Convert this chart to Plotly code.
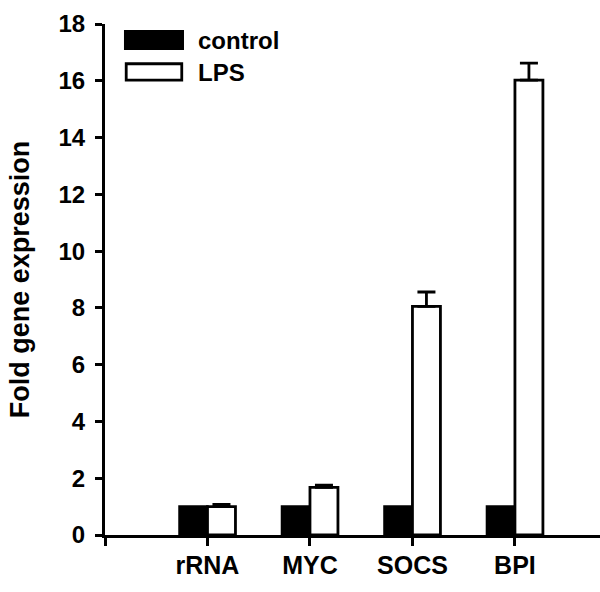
import plotly.graph_objects as go

categories = ["rRNA", "MYC", "SOCS", "BPI"]
cat_pos = [1, 2, 3, 4]
control_vals = [1.0, 1.0, 1.0, 1.0]
lps_vals = [1.0, 1.68, 8.05, 16.02]
lps_err = [0.08, 0.08, 0.51, 0.6]
tick_vals = [0, 1, 2, 3, 4]
tick_text = [""] + categories
y_ticks = [0, 2, 4, 6, 8, 10, 12, 14, 16, 18]

FONT = "Liberation Sans, Arial, Helvetica, sans-serif"
BW = 0.273

fig = go.Figure()
fig.add_trace(go.Bar(
    x=cat_pos, y=control_vals, name="control", width=BW, offset=-BW,
    marker=dict(color="black", line=dict(color="black", width=2.5)),
    showlegend=False,
))
fig.add_trace(go.Bar(
    x=cat_pos, y=lps_vals, name="LPS", width=BW, offset=0,
    marker=dict(color="white", line=dict(color="black", width=2.8)),
    error_y=dict(type="data", symmetric=False, array=lps_err,
                 arrayminus=[0] * len(lps_err), color="black",
                 thickness=2.8, width=9),
    showlegend=False,
))

# legend drawn as shapes + text
fig.add_shape(type="rect", xref="x", yref="y", x0=0.195, x1=0.761, y0=17.12, y1=17.75,
              fillcolor="black", line=dict(color="black", width=2))
fig.add_shape(type="rect", xref="x", yref="y", x0=0.207, x1=0.749, y0=16.02, y1=16.6,
              fillcolor="white", line=dict(color="black", width=2.8))
fig.add_annotation(x=0.89, y=17.42, xref="x", yref="y", text="control", showarrow=False,
                   xanchor="left", yanchor="middle",
                   font=dict(family=FONT, size=24, color="black", weight="bold"))
fig.add_annotation(x=0.89, y=16.3, xref="x", yref="y", text="LPS", showarrow=False,
                   xanchor="left", yanchor="middle",
                   font=dict(family=FONT, size=24, color="black", weight="bold"))

fig.update_layout(
    width=600, height=592,
    margin=dict(l=105, r=0, t=24, b=57),
    plot_bgcolor="white", paper_bgcolor="white",
    font=dict(family=FONT, color="black"),
    xaxis=dict(range=[0, 4.83], tickmode="array", tickvals=tick_vals, ticktext=tick_text,
               showline=True, linecolor="black", linewidth=3, ticks="outside",
               ticklen=8, tickwidth=3, tickcolor="black", showgrid=False, zeroline=False,
               tickfont=dict(family=FONT, size=25, color="black", weight="bold"),
               ticklabelstandoff=-2),
    yaxis=dict(range=[0, 18], tickmode="array", tickvals=y_ticks,
               showline=True, linecolor="black", linewidth=3, ticks="outside",
               ticklen=7, tickwidth=3, tickcolor="black", showgrid=False, zeroline=False,
               tickfont=dict(family=FONT, size=24, color="black", weight="bold"),
               ticklabelstandoff=5,
               title=dict(text="Fold gene expression", standoff=22,
                          font=dict(family=FONT, size=27, color="black", weight="bold"))),
)

fig.write_html("out.html", config={"displayModeBar": False},
               post_script="document.body.style.margin='0';document.body.style.padding='0';")
